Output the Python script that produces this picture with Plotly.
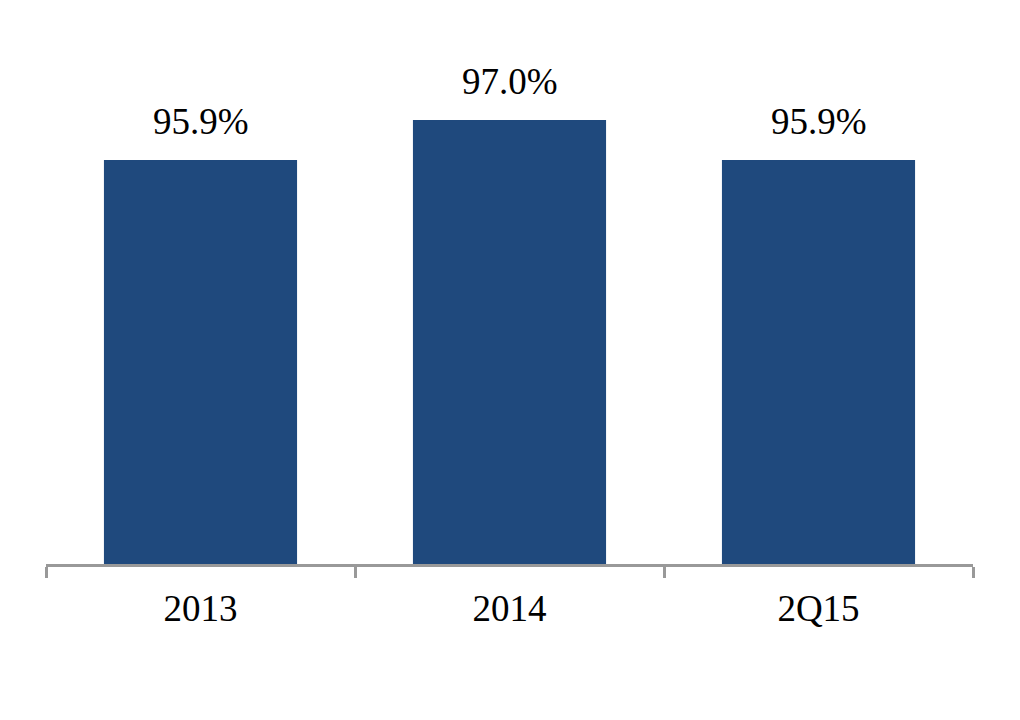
import plotly.graph_objects as go

periods = ["2013", "2014", "2Q15"]
occupancy = [95.9, 97.0, 95.9]
labels = ["95.9%", "97.0%", "95.9%"]

bar_color = "#1F497D"
axis_color = "#999999"
font_family = "Liberation Serif, Times New Roman, serif"

fig = go.Figure()

fig.add_trace(go.Bar(
    x=periods,
    y=occupancy,
    marker=dict(color=bar_color, line=dict(width=0)),
    width=0.625,
    hoverinfo="skip",
))

# value labels above the bars (x by category index, "2013" would be read as a number)
for i, (v, t) in enumerate(zip(occupancy, labels)):
    fig.add_annotation(
        x=i, y=v, text=t, showarrow=False,
        yanchor="bottom", yshift=16,
        font=dict(family=font_family, size=37, color="black"),
    )

fig.update_xaxes(
    type="category",
    range=[-0.5, 2.5],
    showline=True, linecolor=axis_color, linewidth=3,
    ticks="outside", tickson="boundaries", ticklen=11,
    tickcolor=axis_color, tickwidth=3,
    ticklabelstandoff=10,
    showgrid=False, zeroline=False,
    tickfont=dict(family=font_family, size=37, color="black"),
)
fig.update_yaxes(
    range=[84.79, 99.2],
    visible=False, showgrid=False, zeroline=False,
)

fig.update_layout(
    width=1020, height=720,
    margin=dict(l=38, r=55, t=32, b=164),
    plot_bgcolor="white", paper_bgcolor="white",
    showlegend=False,
)

fig.write_html("out.html")
